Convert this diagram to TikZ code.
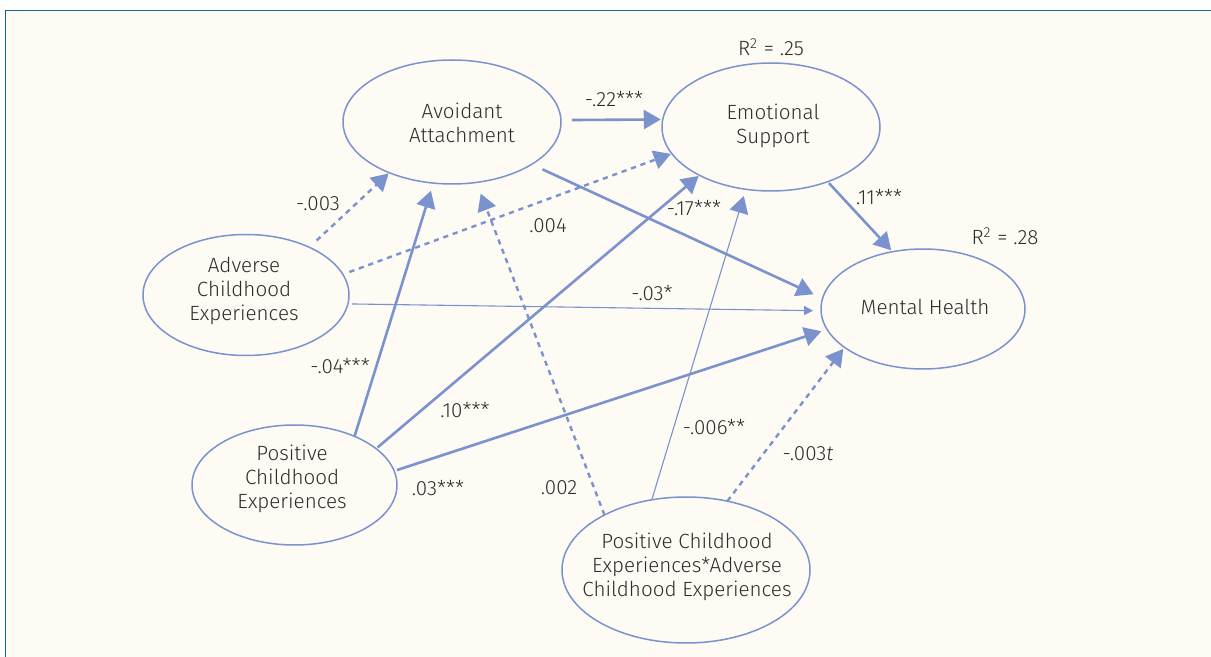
\documentclass[tikz,border=0pt]{standalone}
\usepackage{fontspec}
\setmainfont{Fira Sans}[UprightFont=* Light, ItalicFont=* Light Italic]
\usetikzlibrary{arrows.meta,shapes.geometric}
\definecolor{bgc}{RGB}{254,251,244}
\definecolor{framec}{RGB}{18,104,148}
\definecolor{lnc}{RGB}{122,146,206}
\definecolor{txc}{RGB}{45,45,45}
\begin{document}
\begin{tikzpicture}[x=0.5pt,y=-0.5pt,
  ell/.style={draw=lnc, line width=0.75pt, ellipse, inner sep=0pt, outer sep=0pt},
  txt/.style={text=txc, font=\fontsize{10.3}{12}\selectfont, align=center, inner sep=0pt},
  lab/.style={text=txc, font=\fontsize{10.3}{12}\selectfont, inner sep=0pt},
  big/.style={draw=lnc, line width=1.3pt, -{Triangle[length=8.5pt,width=9.5pt]}},
  dsh/.style={big, line width=1.2pt, dash pattern=on 2.6pt off 2.4pt},
  fine/.style={draw=lnc, line width=0.55pt, -{Triangle[length=8.5pt,width=9.5pt]}},
  finesmall/.style={draw=lnc, line width=0.55pt, -{Triangle[length=4.5pt,width=4.5pt]}}
]
\useasboundingbox (0,0) rectangle (1211,657);
\fill[white] (0,0) rectangle (1211,657);
\fill[bgc] (5.5,10.5) rectangle (1211,657);
\draw[framec, line width=0.7pt] (5.5,657) -- (5.5,10.5) -- (1211,10.5);

% ellipses
\node[ell, minimum width=109pt, minimum height=62pt,
  label={[txt, xshift=5pt, yshift=-0.5pt]center:{Avoidant\\Attachment}}] (avoid) at (452,122) {};
\node[ell, minimum width=109pt, minimum height=64pt,
  label={[txt, xshift=1pt, yshift=0.5pt]center:{Emotional\\Support}}] (emo) at (771,127) {};
\node[ell, minimum width=102pt, minimum height=60pt,
  label={[txt, xshift=1pt, yshift=1pt]center:{Mental Health}}] (mh) at (923,309) {};
\node[ell, minimum width=103pt, minimum height=60.5pt,
  label={[txt, xshift=-1pt, yshift=2pt]center:{Adverse\\Childhood\\Experiences}}] (adv) at (246,295) {};
\node[ell, minimum width=102.5pt, minimum height=60pt,
  label={[txt, xshift=-1.2pt, yshift=3pt]center:{Positive\\Childhood\\Experiences}}] (pos) at (294.5,485) {};
\node[ell, minimum width=124pt, minimum height=73pt,
  label={[txt, xshift=0.5pt, yshift=1.5pt]center:{Positive Childhood\\Experiences*Adverse\\Childhood Experiences}}] (inter) at (686,570) {};

% R squared
\node[lab] (r1) at (771,47) {R\textsuperscript{2} = .25};
\node[lab] (r2) at (1005,236) {R\textsuperscript{2} = .28};

% paths
\draw[big, shorten <=5.5pt, shorten >=1pt] (avoid.1) -- (emo.176);
\draw[big, shorten <=6pt, shorten >=5pt] (avoid.-28) -- (mh.174);
\draw[big, shorten <=1pt, shorten >=1pt] (emo.-44) -- (mh.118);
\draw[dsh, shorten <=5pt, shorten >=0.5pt] (adv.37) -- (avoid.219);
\draw[dsh, shorten <=3.5pt, shorten >=0.5pt] (adv.12) -- (emo.195);
\draw[finesmall, shorten <=2pt, shorten >=4pt] (adv.-5) -- (mh.181);
\draw[big, shorten <=0pt, shorten >=4pt] (pos.39) -- (avoid.253);
\draw[big, shorten <=1pt, shorten >=0.5pt] (pos.24) -- (emo.214);
\draw[big, shorten <=1.5pt, shorten >=3pt] (pos.8) -- (mh.192);
\draw[dsh, shorten <=0pt, shorten >=6pt] (inter.146) -- (avoid.-68);
\draw[fine, shorten <=0pt, shorten >=3.5pt] (inter.116) -- (emo.248);
\draw[dsh, shorten <=0pt, shorten >=1pt] (inter.59) -- (mh.206);

% coefficient labels
\node[lab] (c1) at (614,99) {-.22***};
\node[lab] (c2) at (318,204) {-.003};
\node[lab] (c3) at (548,226) {.004};
\node[lab] (c4) at (694,208) {-.17***};
\node[lab] (c5) at (879,197) {.11***};
\node[lab] (c6) at (652,293) {-.03*};
\node[lab] (c7) at (340,366) {-.04***};
\node[lab] (c8) at (465,410) {.10***};
\node[lab] (c9) at (438,488) {.03***};
\node[lab] (c10) at (559,488) {.002};
\node[lab] (c11) at (714,427) {-.006**};
\node[lab] (c12) at (808,454) {-.003\textit{t}};
\end{tikzpicture}
\end{document}
